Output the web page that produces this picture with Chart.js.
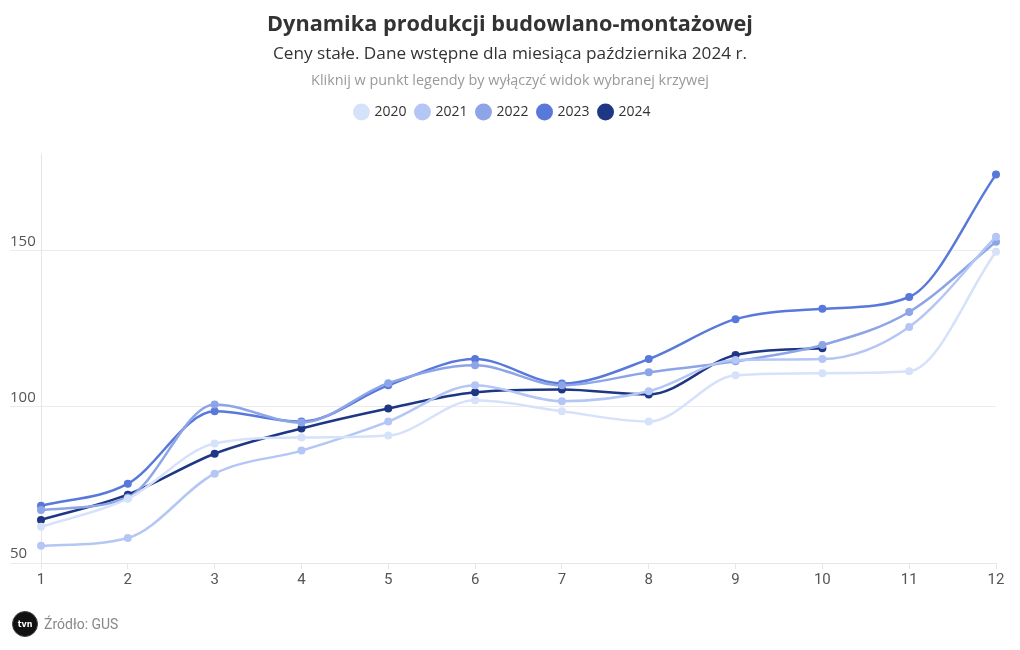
<!DOCTYPE html>
<html lang="pl">
<head>
<meta charset="utf-8">
<script src="https://cdn.jsdelivr.net/npm/chart.js@4"></script>
<style>
  html, body { margin: 0; padding: 0; background: #fff; }
  #wrap { position: relative; width: 1020px; height: 650px; }
  #chart { position: absolute; left: 0; top: 0; }
  .hdr { position: absolute; left: 0; width: 1020px; text-align: center;
         font-family: "Open Sans", "Noto Sans", sans-serif; white-space: nowrap; }
  #title { top: 8px;  font-size: 21.7px; font-weight: 700; color: #333; }
  #sub   { top: 41px; font-size: 17.2px; color: #333; }
  #hint  { top: 70px; font-size: 14.4px; color: #999; }
  #foot  { position: absolute; left: 12px; top: 611px; display: flex; align-items: center;
           font-family: "Liberation Sans Narrow", "Roboto", sans-serif; font-size: 14px; color: #888; }
  #logo  { width: 24px; height: 24px; border-radius: 50%; background: #111; color: #fff;
           font: bold 8px "DejaVu Sans", sans-serif; display: flex; align-items: center;
           justify-content: center; margin-right: 6px; border: 1px solid #444; }
</style>
</head>
<body>
<div id="wrap">
  <canvas id="chart" width="1020" height="650"></canvas>
  <div class="hdr" id="title">Dynamika produkcji budowlano-montażowej</div>
  <div class="hdr" id="sub">Ceny stałe. Dane wstępne dla miesiąca października 2024 r.</div>
  <div class="hdr" id="hint">Kliknij w punkt legendy by wyłączyć widok wybranej krzywej</div>
  <div id="foot"><span id="logo">tvn</span>Źródło: GUS</div>
</div>
<script>
/* ---------- data ---------- */
const months = ['1', '2', '3', '4', '5', '6', '7', '8', '9', '10', '11', '12'];
const y2020 = [61.6, 70.6, 88.3, 90.2, 90.8, 102.1, 98.6, 95.3, 110.1, 110.8, 111.4, 149.7];
const y2021 = [55.5, 58.0, 78.6, 86.0, 95.3, 106.9, 101.8, 105.0, 115.0, 115.3, 125.6, 154.5];
const y2022 = [67.0, 71.0, 100.8, 95.0, 107.6, 113.3, 106.9, 111.1, 114.6, 119.8, 130.4, 152.9];
const y2023 = [68.3, 75.4, 98.6, 95.3, 106.9, 115.3, 107.5, 115.3, 128.1, 131.4, 135.2, 174.4];
const y2024 = [63.8, 71.9, 85.0, 93.1, 99.5, 104.7, 105.6, 104.0, 116.6, 118.8, null, null];
const yTicks = [50, 100, 150];

/* ---------- colours ---------- */
const COLORS = {
  c2020 : '#d6e1fa',
  c2021 : '#b3c6f5',
  c2022 : '#8da5e8',
  c2023 : '#5879da',
  c2024 : '#1e3784'
};

const series = [
  { label: '2020', data: y2020, color: COLORS.c2020 },
  { label: '2021', data: y2021, color: COLORS.c2021 },
  { label: '2022', data: y2022, color: COLORS.c2022 },
  { label: '2023', data: y2023, color: COLORS.c2023 },
  { label: '2024', data: y2024, color: COLORS.c2024 }
];

/* extra room under legend */
const legendGap = {
  id: 'legendGap',
  beforeInit (chart) {
    const fit = chart.legend.fit;
    chart.legend.fit = function () { fit.bind(chart.legend)(); this.height += 25; };
  }
};

const TICK_FONT = { family: '"Open Sans", "Noto Sans", sans-serif', size: 15 };

new Chart(document.getElementById('chart'), {
  type: 'line',
  data: {
    labels: months,
    datasets: series.map(s => ({
      label: s.label,
      data: s.data,
      borderColor: s.color,
      backgroundColor: s.color,
      pointBackgroundColor: s.color,
      pointBorderColor: s.color,
      borderWidth: 2.5,
      pointRadius: 4,
      pointBorderWidth: 0,
      cubicInterpolationMode: 'monotone',
      spanGaps: false,
      fill: false
    }))
  },
  options: {
    responsive: false,
    animation: false,
    layout: { padding: { top: 95, left: 10, right: 24, bottom: 59 } },
    plugins: {
      title: { display: false },
      tooltip: { enabled: false },
      legend: {
        position: 'top',
        align: 'center',
        labels: {
          usePointStyle: true,
          pointStyle: 'circle',
          boxWidth: 12,
          boxHeight: 12,
          padding: 10,
          color: '#333',
          font: { family: '"Open Sans", "Noto Sans", sans-serif', size: 14 }
        }
      }
    },
    scales: {
      x: {
        offset: false,
        grid: { display: true, drawOnChartArea: false, color: '#e6e6e6', tickLength: 6 },
        border: { display: true, color: '#e6e6e6' },
        ticks: {
          color: '#555',
          padding: 2,
          font: { family: '"Liberation Sans Narrow", "Roboto", sans-serif', size: 15 }
        }
      },
      y: {
        min: 50,
        max: 181,
        afterBuildTicks: scale => { scale.ticks = yTicks.map(v => ({ value: v })); },
        afterFit: scale => { scale.width = 31; },
        grid: { color: '#ebebeb', tickLength: 31, drawTicks: true },
        border: { display: true, color: '#e6e6e6' },
        ticks: {
          color: '#555',
          crossAlign: 'far',
          labelOffset: -9,
          font: TICK_FONT
        }
      }
    }
  },
  plugins: [legendGap]
});
</script>
</body>
</html>
